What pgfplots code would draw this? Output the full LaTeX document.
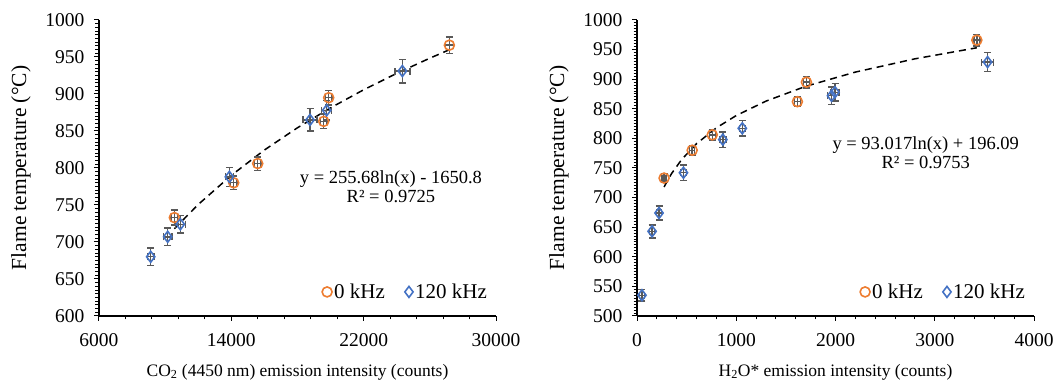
\documentclass[border=0pt]{standalone}
\usepackage{fontspec}
\setmainfont{Liberation Serif}
\usepackage{pgfplots}
\usepackage{pgfplotstable}
\pgfplotsset{compat=1.18}
\definecolor{xlorange}{RGB}{237,125,49}
\definecolor{xlblue}{RGB}{68,114,196}
\definecolor{ebgray}{RGB}{89,89,89}

\pgfplotstableread{
x y ex ey
10555 733 200 10
14143 780 200 9
15595 806 200 9
19585 863 200 10
19887 895 200 10
27180 966 250 11
}\leftA
\pgfplotstableread{
x y ex ey
24340 931 450 16
19765 878 300 13
18757 865 420 15
13880 788 250 13
10917 724 300 12
10152 707 250 12
9124 680 200 12
}\leftB
\pgfplotstableread{
x y
10555 717.9
12000 750.7
14000 790.1
16000 824.3
18000 854.4
20000 881.3
22000 905.7
24000 927.9
26000 948.4
27180 959.8
}\leftT
\pgfplotstableread{
x y ex ey
273 733 20 8
556 780 25 8
758 806 30 9
1616 862 30 8
1707 895 30 10
3424 966 30 10
}\rightA
\pgfplotstableread{
x y ex ey
50 535 25 10
152 643 25 11
222 674 25 12
468 742 30 13
865 798 30 13
1061 817 30 13
1960 872 40 15
1995 878 40 15
3532 929 60 16
}\rightB
\pgfplotstableread{
x y
273 717.9
300 726.6
350 741.0
450 764.3
600 791.1
800 817.9
1000 838.6
1300 863.0
1700 888.0
2200 912.0
2800 934.4
3424 953.1
}\rightT

\newcommand{\fs}{\fontsize{17.5}{19}\selectfont}
\newcommand{\fe}{\fontsize{18.5}{19}\selectfont}
\newcommand{\ft}{\fontsize{19.5}{22}\selectfont}
\newcommand{\fl}{\fontsize{21}{24}\selectfont}
\newcommand{\fy}{\fontsize{21.5}{24}\selectfont}

\pgfplotsset{
  myax/.style={
    scale only axis, width=397pt, height=296pt,
    axis x line*=bottom, axis y line*=left,
    axis line style={line width=1.2pt, -},
    tick align=outside,
    major tick length=5pt, minor tick length=3.5pt,
    every tick/.style={black, line width=1pt},
    tick label style={font=\ft},
    xticklabel style={yshift=-9pt},
    yticklabel style={xshift=-6pt},
    scaled x ticks=false, scaled y ticks=false,
    /pgf/number format/assume math mode=true,
    /pgf/number format/1000 sep={},
    minor x tick num=4, minor y tick num=9,
    clip=false,
    legend style={draw=none, fill=none, font=\fl, legend columns=2,
      at={(0.99,0.04)}, anchor=south east,
      /tikz/every even column/.append style={column sep=18pt}},
    legend cell align=left,
  },
  orangeser/.style={only marks, mark=o, mark size=5pt,
    mark options={draw=xlorange, line width=1.6pt, fill=none},
    error bars/.cd, x dir=both, x explicit, y dir=both, y explicit,
    error bar style={draw=ebgray, line width=1.4pt},
    error mark options={draw=ebgray, line width=1.4pt, mark size=3.5pt, rotate=90}},
  blueser/.style={only marks, mark=diamond, mark size=5.5pt,
    mark options={draw=xlblue, line width=1.6pt, fill=none},
    error bars/.cd, x dir=both, x explicit, y dir=both, y explicit,
    error bar style={draw=ebgray, line width=1.4pt},
    error mark options={draw=ebgray, line width=1.4pt, mark size=3.5pt, rotate=90}},
  trend/.style={black, line width=1.5pt, dash pattern=on 7pt off 5pt, no marks, forget plot},
}

\begin{document}
\begin{tikzpicture}
\useasboundingbox (-99pt,-71pt) rectangle (958pt,316pt);
\begin{axis}[myax, at={(0pt,0pt)}, anchor=south west,
  xmin=6000, xmax=30000, ymin=600, ymax=1000,
  xtick={6000,14000,22000,30000}, ytick={600,650,...,1000}]
\addplot[trend] table[x=x,y=y] {\leftT};
\addplot[orangeser] table[x=x,y=y,x error=ex,y error=ey] {\leftA};
\addlegendentry{0 kHz}
\addplot[blueser] table[x=x,y=y,x error=ex,y error=ey] {\leftB};
\addlegendentry{120 kHz}
\node[align=center, font=\fe] at (axis cs:23650,775) {y = 255.68ln(x) - 1650.8\\R² = 0.9725};
\node[font=\fy, rotate=90] at ([xshift=-78pt]rel axis cs:0,0.5) {Flame temperature (°C)};
\node[font=\fs] at ([yshift=-56pt]rel axis cs:0.5,0) {CO\textsubscript{2} (4450 nm) emission intensity (counts)};
\end{axis}
\begin{axis}[myax, at={(538pt,0pt)}, anchor=south west,
  xmin=0, xmax=4000, ymin=500, ymax=1000,
  xtick={0,1000,...,4000}, ytick={500,550,...,1000}]
\addplot[trend] table[x=x,y=y] {\rightT};
\addplot[orangeser] table[x=x,y=y,x error=ex,y error=ey] {\rightA};
\addlegendentry{0 kHz}
\addplot[blueser] table[x=x,y=y,x error=ex,y error=ey] {\rightB};
\addlegendentry{120 kHz}
\node[align=center, font=\fe] at (axis cs:2909,775) {y = 93.017ln(x) + 196.09\\R² = 0.9753};
\node[font=\fy, rotate=90] at ([xshift=-78pt]rel axis cs:0,0.5) {Flame temperature (°C)};
\node[font=\fs] at ([yshift=-56pt]rel axis cs:0.5,0) {H\textsubscript{2}O* emission intensity (counts)};
\end{axis}
\end{tikzpicture}
\end{document}
